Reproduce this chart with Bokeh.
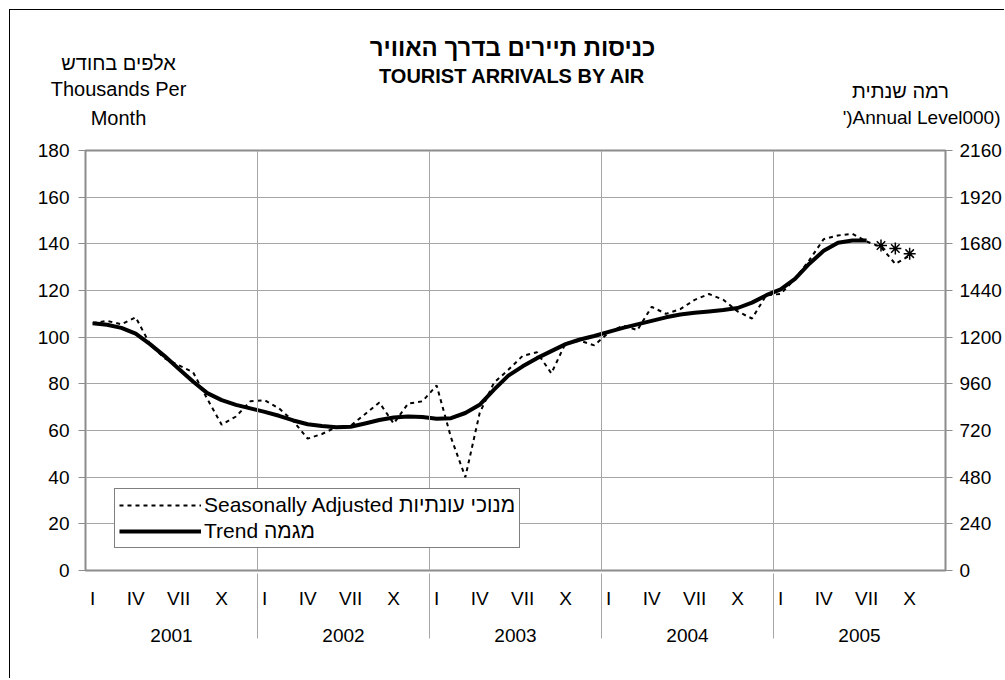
from bokeh.plotting import figure
from bokeh.layouts import column
from bokeh.models import (FactorRange, Range1d, LinearAxis, FixedTicker, Span,
                          Legend, LegendItem, ColumnDataSource)
from bokeh.core.properties import value
from bokeh.embed import file_html
from bokeh.resources import INLINE

# ---------------- data ----------------
years = ["2001", "2002", "2003", "2004", "2005"]
# only I, IV, VII, X are printed; other months carry blank (unique) labels
month_labels = ["I", " ", "  ", "IV", "   ", "    ", "VII", "     ", "      ", "X",
                "       ", "        "]

seasonally_adjusted = [
    106, 107, 105.5, 108.5, 97, 91, 88, 85, 73.5, 62.5, 66, 72.5,          # 2001
    73, 69.5, 64, 56.5, 58.5, 61.5, 62, 67, 72, 63, 71.5, 72.5,            # 2002
    79.3, 57, 40, 67.5, 80.5, 86, 92, 93.5, 84.5, 97.5, 98.5, 96.5,        # 2003
    102, 105, 103, 113, 110, 112, 116, 118.5, 116, 111, 108, 118,          # 2004
    118.5, 125, 133, 142, 143.6, 144.3, 141, 138.6, 131.4, 135, None, None  # 2005
]
trend = [
    106, 105.3, 104, 101.5, 97, 92, 86.5, 81, 76, 73, 71, 69.5,
    68, 66.3, 64.3, 62.7, 61.9, 61.4, 61.6, 63, 64.5, 65.6, 66, 65.8,
    65, 65.3, 67.5, 71, 77.5, 83.5, 87.5, 91, 94, 97, 99, 100.5,
    102.3, 104, 105.5, 107, 108.5, 109.7, 110.5, 111, 111.6, 112.5, 114.8, 118,
    120.5, 125, 131.5, 137, 140.5, 141.4, 141.4, None, None, None, None, None
]
provisional = [None] * 55 + [139.3, 138.0, 135.8, None, None]

left_ticks = list(range(0, 181, 20))
right_ticks = list(range(0, 2161, 240))

title_he = "כניסות תיירים בדרך האוויר"
title_en = "TOURIST ARRIVALS BY AIR"
left_unit = ["אלפים בחודש", "Thousands Per", "Month"]
right_unit = ["רמה שנתית", "')Annual Level000)"]
legend_labels = ["Seasonally Adjusted מנוכי עונתיות", "Trend מגמה"]

# ---------------- build ----------------
FONT = "Liberation Sans"
W = 994
HEAD_H = 126
X0, Y0 = 10, 10   # page position of the layout's content

factors = [(y, m) for y in years for m in month_labels]
all_factors = [(" ", " ")] + factors + [("  ", " ")]


def pick(vals):
    xs = [f for f, v in zip(factors, vals) if v is not None]
    ys = [v for v in vals if v is not None]
    return ColumnDataSource(dict(x=xs, y=ys))


# header (page-like pixel coordinates: x from page left, y from page top)
head = figure(width=W, height=HEAD_H, x_range=Range1d(X0, X0 + W),
              y_range=Range1d(Y0 + HEAD_H, Y0), output_backend="svg",
              toolbar_location=None, x_axis_location=None, y_axis_location=None,
              min_border=0)
head.frame_align = False
head.grid.visible = False
head.outline_line_color = None
head.background_fill_color = "white"
head.border_fill_color = "white"


def htext(txt, x, y, size, bold=False, align="center"):
    head.text(x=[x], y=[y], text=[txt], text_font=value(FONT), text_font_size=size,
              text_font_style="bold" if bold else "normal", text_align=align,
              text_baseline="middle", text_color="black")


htext(title_he, 512, 47, "24px", True)
htext(title_en, 512, 75, "20px", True)
htext(left_unit[0], 118, 62, "20px")
htext(left_unit[1], 118, 88, "20px")
htext(left_unit[2], 118, 117, "20px")
htext(right_unit[0], 900, 90, "20px")
htext(right_unit[1], 1000, 117, "19px", align="right")

# main chart
p = figure(x_range=FactorRange(factors=all_factors, group_padding=0, factor_padding=0,
                               range_padding=-1, range_padding_units="absolute"),
           y_range=Range1d(0, 180),
           width=W, height=14 + 420 + 108, output_backend="svg", toolbar_location=None,
           min_border_left=75, min_border_right=W - 75 - 860, min_border_top=14,
           min_border_bottom=108)
p.frame_align = False
p.background_fill_color = "white"
p.border_fill_color = "white"
p.outline_line_color = "#8c8c8c"
p.outline_line_width = 2

p.xgrid.grid_line_color = None
p.ygrid.ticker = FixedTicker(ticks=left_ticks)
p.ygrid.grid_line_color = "#a6a6a6"
p.ygrid.grid_line_width = 1
for k in range(1, len(years)):
    p.add_layout(Span(location=1 + 12 * k, dimension="height",
                      line_color="#a6a6a6", line_width=1))

ya = p.yaxis[0]
ya.ticker = FixedTicker(ticks=left_ticks)
ya.axis_line_color = None
ya.major_tick_out = 7
ya.major_tick_in = 0
ya.minor_tick_out = 0
ya.major_tick_line_color = "#8c8c8c"
ya.major_label_standoff = 9
ya.major_label_text_font = FONT
ya.major_label_text_font_size = "19px"
ya.major_label_text_color = "black"

p.extra_y_ranges = {"annual": Range1d(0, 2160)}
ra = LinearAxis(y_range_name="annual", ticker=FixedTicker(ticks=right_ticks))
ra.axis_line_color = None
ra.major_tick_out = 7
ra.major_tick_in = 0
ra.minor_tick_out = 0
ra.major_tick_line_color = "#8c8c8c"
ra.major_label_standoff = 7
ra.major_label_text_font = FONT
ra.major_label_text_font_size = "19px"
ra.major_label_text_color = "black"
p.add_layout(ra, "right")

xa = p.xaxis[0]
xa.axis_line_color = None
xa.major_tick_line_color = None
xa.major_tick_out = 0
xa.major_label_standoff = 17
xa.major_label_text_font = FONT
xa.major_label_text_font_size = "19px"
xa.major_label_text_color = "black"
xa.group_text_font = FONT
xa.group_text_font_size = "19px"
xa.group_text_font_style = "normal"
xa.group_text_color = "black"
xa.separator_line_color = "#a6a6a6"
xa.separator_line_width = 1

sa_r = p.line("x", "y", source=pick(seasonally_adjusted), line_color="black",
              line_width=2, line_dash="4 4")
tr_r = p.line("x", "y", source=pick(trend), line_color="black", line_width=4,
              line_join="round")
p.scatter("x", "y", source=pick(provisional), marker="asterisk", size=12,
          line_color="black", line_width=1.5)

legend = Legend(items=[LegendItem(label=legend_labels[0], renderers=[sa_r]),
                       LegendItem(label=legend_labels[1], renderers=[tr_r])],
                location=(29, 22), orientation="vertical",
                border_line_color="black", border_line_width=1,
                background_fill_color="white", background_fill_alpha=1,
                padding=4, margin=0, spacing=2, glyph_width=82, glyph_height=20,
                label_height=20, label_standoff=3,
                label_text_font=FONT, label_text_font_size="21px",
                label_text_color="black")
p.add_layout(legend)

page = column(head, p, spacing=0,
              styles={"margin-left": "9px", "margin-top": "9px",
                      "border-left": "1px solid black", "border-top": "1px solid black"})

open("out.html", "w").write(file_html(page, INLINE))
